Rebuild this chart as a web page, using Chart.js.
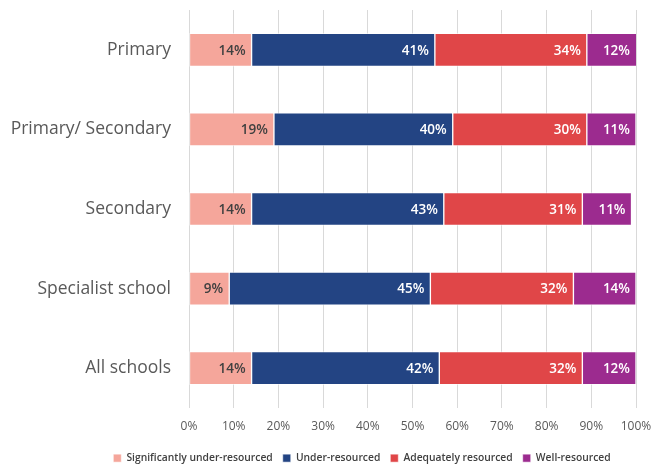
<!DOCTYPE html>
<html>
<head>
<meta charset="utf-8">
<script src="https://cdn.jsdelivr.net/npm/chart.js@4/dist/chart.umd.min.js"></script>
<style>
  html, body { margin: 0; padding: 0; background: #ffffff; }
  #wrap { width: 651px; height: 464px; position: relative; }
</style>
</head>
<body>
<div id="wrap"><canvas id="chart"></canvas></div>
<script>
// School types and the share of each resourcing level (%)
const categories = ['Primary', 'Primary/ Secondary', 'Secondary', 'Specialist school', 'All schools'];
const seriesNames = ['Significantly under-resourced', 'Under-resourced', 'Adequately resourced', 'Well-resourced'];
const significantlyUnder = [14, 19, 14, 9, 14];
const underResourced = [41, 40, 43, 45, 42];
const adequatelyResourced = [34, 30, 31, 32, 32];
const wellResourced = [12, 11, 11, 14, 12];
const xTicks = [0, 10, 20, 30, 40, 50, 60, 70, 80, 90, 100];

const seriesValues = [significantlyUnder, underResourced, adequatelyResourced, wellResourced];
const seriesColors = ['#F5A69B', '#234483', '#E04648', '#9C2B8F'];
const labelColors = ['#404040', '#ffffff', '#ffffff', '#ffffff'];

const FONT = '"Open Sans", Lato, sans-serif';
const LEGEND_SHIFT = 44;

// Writes the percentage inside the right end of each bar segment
const segmentLabels = {
  id: 'segmentLabels',
  afterDatasetsDraw(chart) {
    const ctx = chart.ctx;
    const area = chart.chartArea;
    ctx.save();
    ctx.font = '600 13.5px ' + FONT;
    ctx.textAlign = 'right';
    ctx.textBaseline = 'middle';
    chart.data.datasets.forEach((ds, di) => {
      const meta = chart.getDatasetMeta(di);
      meta.data.forEach((bar, i) => {
        const v = ds.data[i];
        ctx.fillStyle = labelColors[di];
        const x = Math.min(bar.x, area.right) - 6;
        ctx.fillText(v + '%', x, bar.y + 1);
      });
    });
    ctx.restore();
  }
};

// Nudges the legend row to the right under the plot
const legendOffset = {
  id: 'legendOffset',
  afterLayout(chart) {
    if (chart.legend) {
      chart.legend.left += LEGEND_SHIFT;
      chart.legend.right += LEGEND_SHIFT;
    }
  }
};

new Chart(document.getElementById('chart'), {
  type: 'bar',
  data: {
    labels: categories,
    datasets: seriesValues.map((vals, i) => ({
      label: seriesNames[i],
      data: vals,
      backgroundColor: seriesColors[i],
      borderColor: 'rgba(255,255,255,0.55)',
      borderWidth: 1,
      borderSkipped: false,
      barThickness: 33
    }))
  },
  options: {
    indexAxis: 'y',
    responsive: true,
    maintainAspectRatio: false,
    animation: false,
    layout: { padding: { left: 0, right: 15, top: 10, bottom: 0 } },
    scales: {
      x: {
        stacked: true,
        min: 0,
        max: 100,
        afterBuildTicks(scale) { scale.ticks = xTicks.map(v => ({ value: v })); },
        afterFit(scale) {
          scale.height = 35;
          scale.paddingLeft = 0;
          scale.paddingRight = 0;
        },
        grid: { color: '#D9D9D9', lineWidth: 1, drawTicks: false },
        border: { display: false },
        ticks: {
          padding: 11,
          color: '#595959',
          font: { family: FONT, size: 12 },
          callback: v => v + '%'
        }
      },
      y: {
        stacked: true,
        afterFit(scale) {
          scale.width = 189;
          scale.paddingTop = 0;
          scale.paddingBottom = 0;
        },
        grid: { display: false, drawTicks: false },
        border: { display: false },
        ticks: {
          padding: 18,
          color: '#595959',
          font: { family: FONT, size: 17.5 }
        }
      }
    },
    plugins: {
      legend: {
        position: 'bottom',
        maxHeight: 21,
        labels: {
          boxWidth: 8,
          boxHeight: 8,
          padding: 10,
          color: '#404040',
          font: { family: FONT, size: 10.3, weight: '600' }
        }
      },
      tooltip: { enabled: false }
    }
  },
  plugins: [segmentLabels, legendOffset]
});
</script>
</body>
</html>
